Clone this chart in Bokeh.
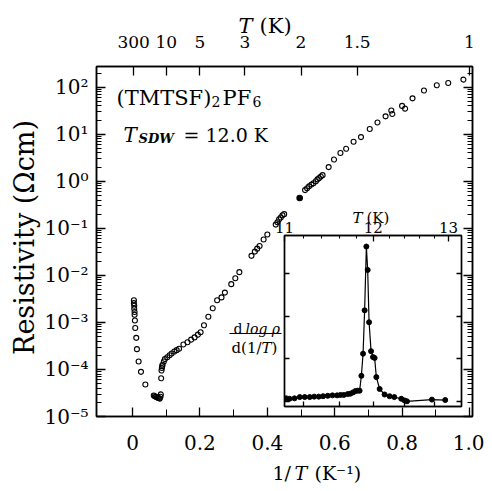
import math
from bokeh.plotting import figure
from bokeh.models import (Range1d, FixedTicker, LogAxis, LinearAxis, Label, Arrow,
                          CustomJSTickFormatter)
from bokeh.layouts import column
from bokeh.embed import file_html
from bokeh.resources import INLINE

# ---------------- data ----------------
# main panel: 1/T (K^-1) and resistivity (Ohm cm), open circles
inv_T = [0.004, 0.004, 0.005, 0.005, 0.006, 0.006, 0.007, 0.008, 0.011, 0.013, 0.018, 0.025, 0.038,
         0.063, 0.066, 0.069, 0.072, 0.075, 0.078, 0.081, 0.083, 0.084,
         0.085, 0.086, 0.087, 0.088, 0.089, 0.093, 0.096, 0.103, 0.110, 0.116, 0.124, 0.131, 0.138,
         0.151, 0.163, 0.174, 0.184, 0.194, 0.202,
         0.212, 0.225, 0.238, 0.251, 0.264, 0.274, 0.293, 0.305, 0.317, 0.353, 0.363, 0.370, 0.377,
         0.389, 0.400, 0.425, 0.430, 0.435, 0.440, 0.445, 0.450,
         0.512, 0.518, 0.524, 0.531, 0.537, 0.544, 0.549, 0.554, 0.559, 0.564,
         0.582, 0.598, 0.617, 0.634, 0.656, 0.678, 0.704, 0.727, 0.751, 0.768, 0.771, 0.800, 0.809,
         0.831, 0.865, 0.903, 0.937, 0.982]
rho = [2.95e-3, 2.57e-3, 2.26e-3, 1.95e-3, 1.66e-3, 1.45e-3, 1.10e-3, 7.6e-4, 4.7e-4, 2.7e-4, 1.48e-4, 8.9e-5, 4.8e-5,
       2.8e-5, 2.7e-5, 2.63e-5, 2.57e-5, 2.51e-5, 2.45e-5, 2.40e-5, 2.63e-5, 2.95e-5,
       6.5e-5, 9.5e-5, 1.07e-4, 1.17e-4, 1.26e-4, 1.48e-4, 1.66e-4, 1.82e-4, 2.0e-4, 2.19e-4, 2.4e-4, 2.57e-4, 2.75e-4,
       3.4e-4, 3.8e-4, 4.3e-4, 4.8e-4, 5.5e-4, 6.2e-4,
       8.7e-4, 1.32e-3, 2.0e-3, 2.95e-3, 3.4e-3, 4.3e-3, 6.5e-3, 8.7e-3, 1.17e-2, 2.6e-2, 3.2e-2, 3.7e-2, 4.2e-2,
       5.8e-2, 7.4e-2, 0.12, 0.135, 0.155, 0.17, 0.19, 0.20,
       0.65, 0.71, 0.78, 0.85, 0.91, 1.0, 1.10, 1.17, 1.26, 1.35,
       2.0, 2.9, 4.0, 4.9, 6.9, 8.7, 12.9, 17.8, 24, 32, 27, 40, 35,
       58, 85, 110, 123, 145]
inv_T_filled = [0.496]
rho_filled = [0.44]

# inset: temperature (K) and d log(rho)/d(1/T) (arb. units)
inset_T = [11.018, 11.052, 11.104, 11.160, 11.213, 11.267, 11.315, 11.365, 11.413, 11.465, 11.518, 11.571,
           11.609, 11.647, 11.693, 11.725, 11.756, 11.783, 11.811, 11.834, 11.855, 11.875, 11.894, 11.915,
           11.931, 11.948, 11.972, 11.996, 12.016, 12.037, 12.078, 12.140, 12.203, 12.263, 12.353, 12.396,
           12.428, 12.765, 12.953]
inset_d = [1.07, 1.06, 1.07, 1.10, 1.10, 1.10, 1.11, 1.11, 1.12, 1.13, 1.14, 1.14,
           1.15, 1.15, 1.17, 1.18, 1.21, 1.24, 1.25, 1.25, 1.60, 2.12, 3.14, 4.64,
           4.09, 2.86, 2.18, 2.04, 2.02, 1.57, 1.29, 1.16, 1.12, 1.10, 1.06, 1.02,
           1.00, 1.04, 1.03]

# ticks / labels
main_decades = [-5, -4, -3, -2, -1, 0, 1, 2]
bottom_ticks = [0, 0.2, 0.4, 0.6, 0.8, 1.0]
bottom_minor = [0.1, 0.3, 0.5, 0.7, 0.9]
top_T_ticks = [300, 10, 5, 3, 2, 1.5, 1]
inset_T_ticks = [11, 12, 13]
inset_T_minor = [11.2, 11.4, 11.6, 11.8, 12.2, 12.4, 12.6, 12.8, 13.0]
inset_bottom_T = [11.2, 11.6, 12.0, 12.4, 12.8]
inset_y_ticks = [1, 2, 3, 4]
inset_T_range = (11.0, 13.19)

FONT = "DejaVu Serif"
W, H = 484, 483

sup_js = """
const sup = {"-": "⁻", "0": "⁰", "1": "¹", "2": "²", "3": "³", "4": "⁴",
             "5": "⁵", "6": "⁶", "7": "⁷", "8": "⁸", "9": "⁹"};
const e = Math.round(Math.log10(tick));
return "10" + String(e).split("").map(c => sup[c]).join("");
"""
empty_fmt = "return '';"


def style(ax, size="19px", tin=9, mtin=5):
    ax.axis_line_width = 1.5
    ax.axis_line_color = "black"
    ax.major_tick_in = tin
    ax.major_tick_out = 0
    ax.minor_tick_in = mtin
    ax.minor_tick_out = 0
    ax.major_tick_line_width = 1.3
    ax.minor_tick_line_width = 1
    ax.major_tick_line_color = "black"
    ax.minor_tick_line_color = "black"
    ax.major_label_text_font = FONT
    ax.major_label_text_font_size = size
    ax.major_label_text_color = "black"


# ---------------- background text layer (picture-pixel coordinates) ----------------
bg = figure(width=W, height=H, x_range=Range1d(0, W), y_range=Range1d(H, 0),
            x_axis_location=None, y_axis_location=None,
            min_border_left=0, min_border_right=0, min_border_top=0, min_border_bottom=0,
            output_backend="svg", toolbar_location=None,
            background_fill_color="white", border_fill_color="white")
bg.grid.visible = False
bg.outline_line_color = None


def lab(px, py, text, size, style_="normal", align="left", baseline="alphabetic", angle=0):
    bg.add_layout(Label(x=px, y=py, text=text, text_font=FONT, text_font_size=size,
                        text_font_style=style_, text_align=align, text_baseline=baseline,
                        angle=angle, text_color="black"))


lab(116, 97, "(TMTSF)", "21px")
lab(211, 101, "2", "14px")
lab(222, 97, "PF", "21px")
lab(252, 101, "6", "14px")
lab(123, 134, "T", "20px", "italic")
lab(138, 138, "SDW", "13px", "bold italic")
lab(183, 134, "= 12.0 K", "19px")

lab(238, 25, "T", "21px", "italic")
lab(259, 25, "(K)", "21px")

lab(272, 472, "1/", "19px")
lab(294, 472, "T", "19px", "italic")
lab(314, 472, "(K⁻¹)", "19px")

lab(24, 237, "Resistivity (Ωcm)", "27px", align="center", baseline="middle", angle=math.pi / 2)

lab(352, 217, "T", "15px", "italic")
lab(366, 217, "(K)", "15px")
lab(233, 328, "d", "14px")
lab(245, 328, "log ρ", "14px", "italic")
lab(231, 347, "d(1/", "15px")
lab(261, 347, "T", "15px", "italic")
lab(271, 347, ")", "15px")
bg.add_layout(Arrow(x_start=229, y_start=333, x_end=281, y_end=333,
                    end=None, start=None, line_color="black", line_width=1.2))

# ---------------- main figure ----------------
p = figure(width=W, height=H,
           x_range=Range1d(-0.107, 1.009), y_range=Range1d(1e-5, 10 ** 2.44),
           y_axis_type="log", output_backend="svg", toolbar_location=None,
           min_border_left=96, min_border_right=12, min_border_top=66, min_border_bottom=67,
           background_fill_color=None, border_fill_color=None)
p.grid.visible = False
p.outline_line_color = "black"
p.outline_line_width = 1.5

major_log = [10.0 ** e for e in main_decades]
minor_log = [m * 10.0 ** e for e in main_decades for m in range(2, 10)]

ly = p.yaxis[0]
ly.ticker = FixedTicker(ticks=major_log, minor_ticks=minor_log)
ly.formatter = CustomJSTickFormatter(code=sup_js)
style(ly, "20px")
ly.major_label_standoff = 8

ry = LogAxis(ticker=FixedTicker(ticks=major_log, minor_ticks=minor_log),
             formatter=CustomJSTickFormatter(code=empty_fmt))
style(ry)
ry.major_label_standoff = 0
p.add_layout(ry, "right")

bx = p.xaxis[0]
bx.ticker = FixedTicker(ticks=bottom_ticks, minor_ticks=bottom_minor)
bx.formatter = CustomJSTickFormatter(code="return tick === 0 ? '0' : tick.toFixed(1);")
style(bx, "20px", tin=9, mtin=7)
bx.major_label_standoff = 18

tx = LinearAxis(ticker=FixedTicker(ticks=[1.0 / t for t in top_T_ticks], minor_ticks=[]),
                formatter=CustomJSTickFormatter(code="return String(Math.round(10 / tick) / 10);"))
style(tx, "17px")
tx.major_label_standoff = 19
p.add_layout(tx, "above")

p.scatter(inv_T, rho, marker="circle", size=5, fill_color="white", fill_alpha=0,
          line_color="black", line_width=1.1)
p.scatter(inv_T_filled, rho_filled, marker="circle", size=5.5, fill_color="black",
          line_color="black", line_width=1.1)

# ---------------- inset figure (overlaid, same canvas size) ----------------
q = figure(width=W, height=H,
           x_range=Range1d(1.0 / inset_T_range[0], 1.0 / inset_T_range[1]),
           y_range=Range1d(0.878, 4.90),
           output_backend="svg", toolbar_location=None,
           min_border_left=284, min_border_right=23, min_border_top=235, min_border_bottom=77,
           background_fill_color="white", border_fill_color=None)
q.grid.visible = False
q.outline_line_color = "black"
q.outline_line_width = 1.3

inv_inset = [1.0 / t for t in inset_T]
q.line(inv_inset, inset_d, line_color="black", line_width=1.2)
q.scatter(inv_inset, inset_d, marker="circle", size=5, fill_color="black", line_color="black")

qb = q.xaxis[0]
qb.ticker = FixedTicker(ticks=[1.0 / t for t in inset_bottom_T], minor_ticks=[])
qb.formatter = CustomJSTickFormatter(code=empty_fmt)
style(qb, tin=5)
qb.major_label_standoff = 0

ql = q.yaxis[0]
ql.ticker = FixedTicker(ticks=inset_y_ticks, minor_ticks=[])
ql.formatter = CustomJSTickFormatter(code=empty_fmt)
style(ql, tin=5)
ql.major_label_standoff = 0

qr = LinearAxis(ticker=FixedTicker(ticks=inset_y_ticks, minor_ticks=[]),
                formatter=CustomJSTickFormatter(code=empty_fmt))
style(qr, tin=5)
qr.major_label_standoff = 0
q.add_layout(qr, "right")

qt = LinearAxis(ticker=FixedTicker(ticks=[1.0 / t for t in inset_T_ticks],
                                   minor_ticks=[1.0 / t for t in inset_T_minor]),
                formatter=CustomJSTickFormatter(code="return String(Math.round(1 / tick));"))
style(qt, "15px", tin=6, mtin=3)
qt.major_label_standoff = 3
q.add_layout(qt, "above")

for fig in (bg, p, q):
    fig.frame_align = False

p.margin = (-H, 0, 0, 0)
q.margin = (-H, 0, 0, 0)

layout = column(bg, p, q, spacing=0)
open("out.html", "w").write(file_html(layout, INLINE))
